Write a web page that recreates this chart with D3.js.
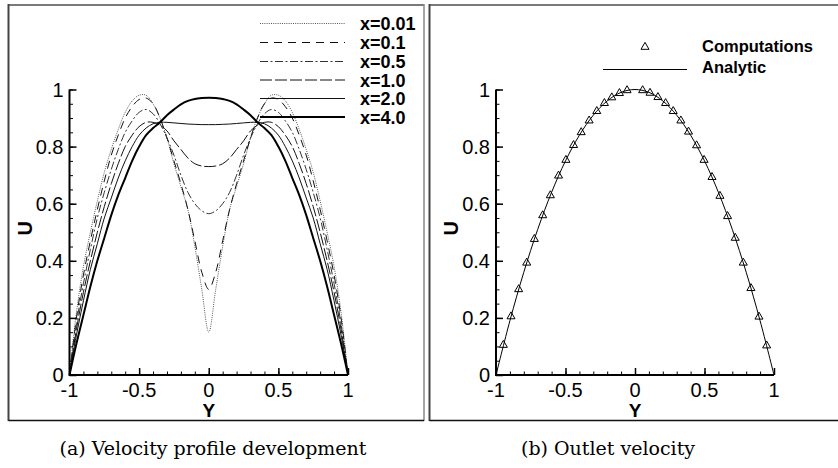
<!DOCTYPE html>
<html><head><meta charset="utf-8">
<script src="https://cdn.jsdelivr.net/npm/d3@7/dist/d3.min.js"></script>
<style>body{margin:0;background:#fff}svg{display:block}</style>
</head><body>
<svg id="c" width="838" height="468"></svg>
<script>
// ---------- DATA ----------
const profileY = [-1,-0.95,-0.9,-0.85,-0.8,-0.75,-0.7,-0.65,-0.6,-0.55,-0.5,-0.45,-0.4,-0.35,-0.3,-0.25,-0.2,-0.15,-0.1,-0.05,0,
  0.05,0.1,0.15,0.2,0.25,0.3,0.35,0.4,0.45,0.5,0.55,0.6,0.65,0.7,0.75,0.8,0.85,0.9,0.95,1];
const seriesNames = ["x=0.01","x=0.1","x=0.5","x=1.0","x=2.0","x=4.0"];
const u001 = [0,0.22,0.38,0.5,0.61,0.71,0.79,0.86,0.92,0.96,0.98,0.98,0.95,0.9,0.83,0.74,0.66,0.58,0.45,0.3,0.15,
  0.3,0.45,0.58,0.66,0.74,0.83,0.9,0.95,0.98,0.98,0.96,0.92,0.86,0.79,0.71,0.61,0.5,0.38,0.22,0];
const u01 = [0,0.2,0.35,0.47,0.58,0.68,0.77,0.84,0.9,0.94,0.965,0.97,0.95,0.9,0.83,0.75,0.67,0.58,0.47,0.36,0.3,
  0.36,0.47,0.58,0.67,0.75,0.83,0.9,0.95,0.97,0.965,0.94,0.9,0.84,0.77,0.68,0.58,0.47,0.35,0.2,0];
const u05 = [0,0.18,0.32,0.44,0.55,0.64,0.72,0.79,0.85,0.89,0.92,0.93,0.915,0.88,0.83,0.77,0.7,0.64,0.6,0.575,0.565,
  0.575,0.6,0.64,0.7,0.77,0.83,0.88,0.915,0.93,0.92,0.89,0.85,0.79,0.72,0.64,0.55,0.44,0.32,0.18,0];
const u10 = [0,0.16,0.29,0.4,0.5,0.59,0.67,0.74,0.8,0.84,0.87,0.885,0.885,0.875,0.855,0.82,0.79,0.76,0.74,0.732,0.73,
  0.732,0.74,0.76,0.79,0.82,0.855,0.875,0.885,0.885,0.87,0.84,0.8,0.74,0.67,0.59,0.5,0.4,0.29,0.16,0];
const u20 = [0,0.14,0.26,0.37,0.46,0.55,0.62,0.69,0.75,0.8,0.84,0.865,0.88,0.885,0.885,0.883,0.881,0.879,0.878,0.877,0.877,
  0.877,0.878,0.879,0.881,0.883,0.885,0.885,0.88,0.865,0.84,0.8,0.75,0.69,0.62,0.55,0.46,0.37,0.26,0.14,0];
const u40 = [0,0.11,0.21,0.31,0.4,0.48,0.56,0.63,0.69,0.75,0.8,0.84,0.865,0.885,0.91,0.93,0.948,0.96,0.967,0.97,0.971,
  0.97,0.967,0.96,0.948,0.93,0.91,0.885,0.865,0.84,0.8,0.75,0.69,0.63,0.56,0.48,0.4,0.31,0.21,0.11,0];

const compY = [-0.947,-0.892,-0.837,-0.779,-0.724,-0.664,-0.609,-0.55,-0.497,-0.442,-0.387,-0.33,-0.275,-0.22,-0.167,-0.112,-0.057,
  0.055,0.108,0.165,0.22,0.275,0.33,0.385,0.443,0.497,0.554,0.611,0.666,0.721,0.779,0.834,0.892,0.947];
const compU = [0.105,0.205,0.3,0.393,0.476,0.559,0.629,0.698,0.753,0.805,0.85,0.891,0.924,0.952,0.972,0.987,0.997,
  0.997,0.988,0.973,0.952,0.924,0.891,0.852,0.804,0.753,0.693,0.627,0.556,0.48,0.393,0.304,0.204,0.103];
const analyticY = [-1,-0.9,-0.8,-0.7,-0.6,-0.5,-0.4,-0.3,-0.2,-0.1,0,0.1,0.2,0.3,0.4,0.5,0.6,0.7,0.8,0.9,1];
const analyticU = [0,0.19,0.36,0.51,0.64,0.75,0.84,0.91,0.96,0.99,1,0.99,0.96,0.91,0.84,0.75,0.64,0.51,0.36,0.19,0];

const xTicks = [-1,-0.5,0,0.5,1];
const xTickLabels = ["-1","-0.5","0","0.5","1"];
const yTicks = [0,0.2,0.4,0.6,0.8,1];
const yTickLabels = ["0","0.2","0.4","0.6","0.8","1"];
const compLegend = ["Computations","Analytic"];
const captions = ["(a) Velocity profile development","(b) Outlet velocity"];

// ---------- DRAW ----------
const svg = d3.select("#c");
const uSeries = [u001,u01,u05,u10,u20,u40];
const styles = [
  {dash:"1,1.2", w:1, c:"#555"},
  {dash:"8,6", w:1, c:"#111"},
  {dash:"8,2.5,2,2.5", w:1, c:"#333"},
  {dash:"12,3", w:1, c:"#111"},
  {dash:null, w:1, c:"#111"},
  {dash:null, w:2, c:"#000"}
];
const sans = "Liberation Sans, Arial, sans-serif";

function frame(x0,x1){
  svg.append("line").attr("x1",x0).attr("x2",x1).attr("y1",5).attr("y2",5).attr("stroke","#7a7a7a").attr("stroke-width",2);
  svg.append("line").attr("x1",x0).attr("x2",x0).attr("y1",4).attr("y2",421).attr("stroke","#444").attr("stroke-width",2);
  svg.append("line").attr("x1",x1).attr("x2",x1).attr("y1",4).attr("y2",421).attr("stroke","#888").attr("stroke-width",1.5);
  svg.append("line").attr("x1",x0).attr("x2",x1).attr("y1",420.5).attr("y2",420.5).attr("stroke","#111").attr("stroke-width",1.5);
}
frame(8.5,424);
frame(429.5,840);

function axes(g, x, y){
  const xm = d3.range(-1,1.0001,0.1);
  const ym = d3.range(0,1.0001,0.05);
  g.append("g").attr("transform",`translate(0,${y(0)})`)
    .call(d3.axisTop(x).tickValues(xm).tickSize(3.5).tickFormat(""))
    .call(s=>{s.select(".domain").remove(); s.selectAll("line").attr("stroke","#000").attr("stroke-width",1);});
  g.append("g").attr("transform",`translate(${x(-1)},0)`)
    .call(d3.axisRight(y).tickValues(ym).tickSize(3.5).tickFormat(""))
    .call(s=>{s.select(".domain").remove(); s.selectAll("line").attr("stroke","#000").attr("stroke-width",1);});
  const gx = g.append("g").attr("transform",`translate(0,${y(0)})`)
    .call(d3.axisTop(x).tickValues(xTicks).tickSize(7).tickFormat(""));
  gx.select(".domain").remove(); gx.selectAll("line").attr("stroke","#000").attr("stroke-width",1.5);
  const gy = g.append("g").attr("transform",`translate(${x(-1)},0)`)
    .call(d3.axisRight(y).tickValues(yTicks).tickSize(7).tickFormat(""));
  gy.select(".domain").remove(); gy.selectAll("line").attr("stroke","#000").attr("stroke-width",1.5);
  g.append("line").attr("x1",x(-1)).attr("x2",x(1)).attr("y1",y(0)).attr("y2",y(0)).attr("stroke","#000").attr("stroke-width",2);
  g.append("line").attr("x1",x(-1)).attr("x2",x(-1)).attr("y1",y(0)+1).attr("y2",y(1)).attr("stroke","#000").attr("stroke-width",2);
  g.selectAll(".xl").data(xTicks).enter().append("text")
    .attr("x",d=>x(d)).attr("y",y(0)+21.5).attr("text-anchor","middle")
    .style("font-family",sans).style("font-size","20px").text((d,i)=>xTickLabels[i]);
  g.selectAll(".yl").data(yTicks).enter().append("text")
    .attr("x",x(-1)-6).attr("y",d=>y(d)+7).attr("text-anchor","end")
    .style("font-family",sans).style("font-size","20px").text((d,i)=>yTickLabels[i]);
  g.append("text").attr("x",x(0)).attr("y",417).attr("text-anchor","middle")
    .style("font-family",sans).style("font-size","19px").style("font-weight","bold").text("Y");
  g.append("text").attr("transform",`translate(${x(-1)-38},${y(0.5)-4}) rotate(-90)`).attr("text-anchor","middle")
    .style("font-family",sans).style("font-size","20px").style("font-weight","bold").text("U");
}

// Left panel
const xL = d3.scaleLinear().domain([-1,1]).range([69.5,348]);
const yL = d3.scaleLinear().domain([0,1]).range([375,89.5]);
const gL = svg.append("g");
const lineL = d3.line().x(d=>xL(d[0])).y(d=>yL(d[1])).curve(d3.curveCatmullRom.alpha(0.5));
uSeries.forEach((u,i)=>{
  const pts = profileY.map((yy,j)=>[yy,u[j]]);
  gL.append("path").attr("d",lineL(pts)).attr("fill","none")
    .attr("stroke",styles[i].c).attr("stroke-width",styles[i].w)
    .attr("stroke-dasharray",styles[i].dash);
});
axes(gL,xL,yL);
const legRowY = [23.5,42.5,61.5,80,98.5,117];
seriesNames.forEach((n,i)=>{
  gL.append("line").attr("x1",260).attr("x2",345).attr("y1",legRowY[i]).attr("y2",legRowY[i])
    .attr("stroke",styles[i].c).attr("stroke-width",styles[i].w).attr("stroke-dasharray",styles[i].dash);
  gL.append("text").attr("x",360).attr("y",legRowY[i]+6.5).style("font-family",sans)
    .style("font-size","18px").style("font-weight","bold").text(n);
});

// Right panel
const xR = d3.scaleLinear().domain([-1,1]).range([496,774]);
const yR = d3.scaleLinear().domain([0,1]).range([375,89.5]);
const gR = svg.append("g");
gR.append("path").attr("d",d3.line().x(d=>xR(d[0])).y(d=>yR(d[1])).curve(d3.curveCatmullRom)(analyticY.map((v,i)=>[v,analyticU[i]])))
  .attr("fill","none").attr("stroke","#000").attr("stroke-width",1);
const tri = d3.symbol().type(d3.symbolTriangle).size(28);
gR.selectAll(".tri").data(compY).enter().append("path").attr("d",tri)
  .attr("transform",(d,i)=>`translate(${xR(d)},${yR(compU[i])})`)
  .attr("fill","none").attr("stroke","#000").attr("stroke-width",1);
axes(gR,xR,yR);
gR.append("path").attr("d",tri).attr("transform","translate(645,47)").attr("fill","none").attr("stroke","#000");
gR.append("text").attr("x",702).attr("y",52).style("font-family",sans)
  .style("font-size","16.5px").style("font-weight","bold").text(compLegend[0]);
gR.append("line").attr("x1",603).attr("x2",687).attr("y1",69.5).attr("y2",69.5).attr("stroke","#000").attr("stroke-width",1);
gR.append("text").attr("x",702).attr("y",73).style("font-family",sans)
  .style("font-size","16.5px").style("font-weight","bold").text(compLegend[1]);

// captions
svg.append("text").attr("x",213).attr("y",455).attr("text-anchor","middle")
  .style("font-family","DejaVu Serif, serif").style("font-size","19px").text(captions[0]);
svg.append("text").attr("x",608).attr("y",455).attr("text-anchor","middle")
  .style("font-family","DejaVu Serif, serif").style("font-size","19px").text(captions[1]);
</script>
</body></html>
